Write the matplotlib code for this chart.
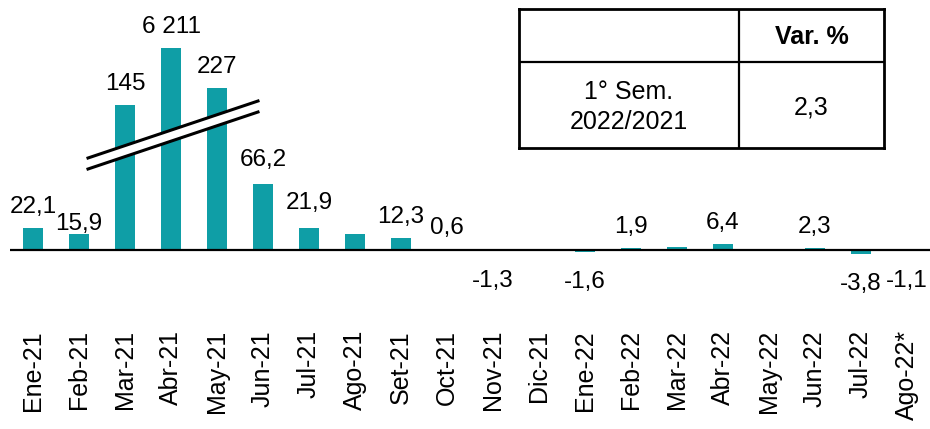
import matplotlib.pyplot as plt
import numpy as np
from matplotlib.patches import Polygon
from matplotlib.lines import Line2D

plt.rcParams['font.family'] = ['Liberation Sans', 'DejaVu Sans']

# ======= DATOS ======= #

meses = ['Ene-21', 'Feb-21', 'Mar-21', 'Abr-21', 'May-21', 'Jun-21', 'Jul-21',
         'Ago-21', 'Set-21', 'Oct-21', 'Nov-21', 'Dic-21', 'Ene-22', 'Feb-22',
         'Mar-22', 'Abr-22', 'May-22', 'Jun-22', 'Jul-22', 'Ago-22*']
var_pct = [22.1, 15.9, 145, 6211, 227, 66.2, 21.9,
           16.0, 12.3, 0.6, -1.3, 0.2, -1.6, 1.9,
           3.5, 6.4, 0.5, 2.3, -3.8, -1.1]
etiquetas = ['22,1', '15,9', '145', '6 211', '227', '66,2', '21,9',
             '', '12,3', '0,6', '-1,3', '', '-1,6', '1,9',
             '', '6,4', '', '2,3', '-3,8', '-1,1']

tabla_fila = '1° Sem.\n2022/2021'
tabla_col = 'Var. %'
tabla_valor = '2,3'

COLOR = '#0f9ea6'
W, H = 930, 429
FS = 17.5

# ======= ESCALA CON CORTE (lineal hasta B, comprimida arriba) ======= #
B, C, P = 145.0, 4.7, 0.2865

def fwd(y):
    y = np.asarray(y, dtype=float)
    return np.where(y <= B, y, B + C * np.maximum(y - B, 0) ** P)

def inv(d):
    d = np.asarray(d, dtype=float)
    return np.where(d <= B, d, B + (np.maximum(d - B, 0) / C) ** (1 / P))

fig = plt.figure(figsize=(W / 100, H / 100), dpi=100)
ax = fig.add_axes([10 / W, (H - 330) / H, 920 / W, 330 / H])
ax.set_yscale('function', functions=(fwd, inv))

x = np.arange(len(meses))
ax.bar(x, var_pct, width=0.44, color=COLOR, zorder=2)
ax.axhline(0, color='black', lw=1.6, zorder=3)

ax.set_xlim(-0.5, len(meses) - 0.5)
ax.set_ylim(-80, float(inv(250)))
ax.set_xticks(x)
ax.set_xticklabels(meses, rotation=90, fontsize=18)
ax.tick_params(axis='x', length=0, pad=0)
ax.set_yticks([])
for s in ax.spines.values():
    s.set_visible(False)

# ajustes finos de etiquetas (pixeles)
ajuste = {1: -11, 6: 4, 5: 3}
for i, (v, t) in enumerate(zip(var_pct, etiquetas)):
    if not t:
        continue
    if v >= 0:
        dy = 15 + ajuste.get(i, 0)
        ax.annotate(t, (i, v), xytext=(0, dy), textcoords='offset pixels',
                    ha='center', va='baseline', fontsize=FS)
    else:
        ax.annotate(t, (i, v), xytext=(0, -19), textcoords='offset pixels',
                    ha='center', va='top', fontsize=FS)

# marcas de corte
def px(xp, yp):
    return (xp / W, 1 - yp / H)

banda = Polygon([px(88, 158), px(258, 101), px(258, 112), px(88, 169)],
                closed=True, transform=fig.transFigure, facecolor='white',
                edgecolor='none', zorder=5)
fig.add_artist(banda)
for y0, y1 in [(158, 101), (169, 112)]:
    p0, p1 = px(88, y0), px(258, y1)
    fig.add_artist(Line2D([p0[0], p1[0]], [p0[1], p1[1]], color='black',
                          lw=2.2, transform=fig.transFigure, zorder=6))

# tabla
tx0, tx1, ty0, ty1 = 519, 884, 9, 148
tab = fig.add_axes([tx0 / W, 1 - ty1 / H, (tx1 - tx0) / W, (ty1 - ty0) / H])
tab.set_xlim(tx0, tx1)
tab.set_ylim(ty1, ty0)
tab.set_xticks([])
tab.set_yticks([])
for s in tab.spines.values():
    s.set_linewidth(2)
tab.axvline(739, color='black', lw=1.6)
tab.axhline(62, color='black', lw=1.6)
tab.text((739 + tx1) / 2, 37, tabla_col, ha='center', va='center',
         fontsize=18, fontweight='bold')
tab.text((tx0 + 739) / 2, 107, tabla_fila, ha='center', va='center',
         fontsize=18, linespacing=1.3)
tab.text((739 + tx1) / 2, 107, tabla_valor, ha='center', va='center',
         fontsize=18)

fig.savefig('out.png', dpi=100)
